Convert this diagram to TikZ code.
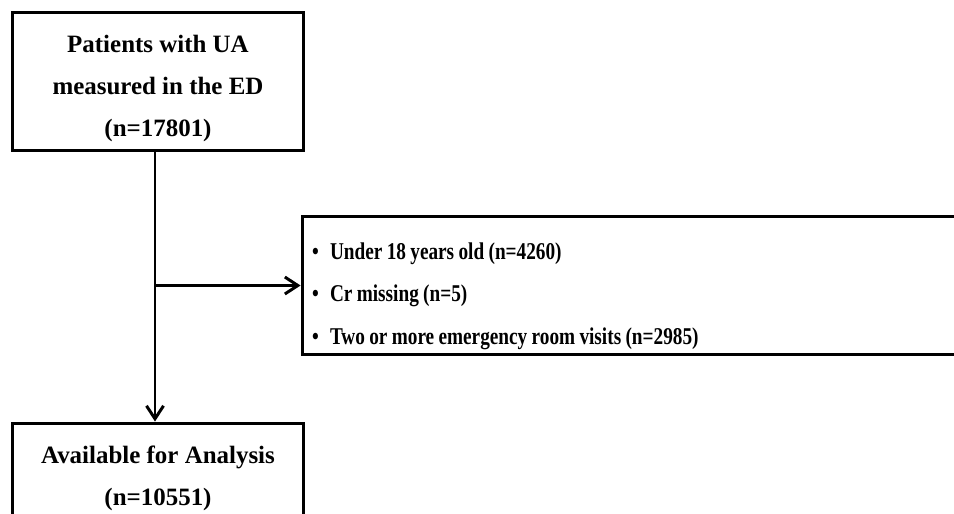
\documentclass[tikz,border=0pt]{standalone}
\usepackage{fontspec}
\setmainfont{Liberation Serif}
\newfontfamily\narrowfont[FakeStretch=0.8]{Liberation Serif}
\usetikzlibrary{arrows.meta,positioning}

\newcommand{\itembullet}{\makebox[0.36cm][l]{\textbullet}}
\newcommand{\tightspace}{\spaceskip=0.18em\relax}

\begin{document}
\begin{tikzpicture}[x=0.02cm,y=-0.02cm,line width=1.7pt]
  \tikzstyle{Box}=[draw,rectangle,inner sep=0pt,font=\fontsize{14.2pt}{23.9pt}\selectfont\bfseries]
  \tikzstyle{ListBox}=[draw,rectangle,inner xsep=0.2cm,inner ysep=0pt,text width=12.96cm,align=left,
                       minimum height=2.78cm,font=\narrowfont\fontsize{13.7pt}{24.2pt}\selectfont\bfseries]
  \tikzstyle{Flow}=[-{Straight Barb[length=2.6mm,width=3.4mm]}]
  \useasboundingbox (0,0) rectangle (954,514);

  \node[Box,align=center,minimum width=5.84cm,minimum height=2.78cm] (patients) at (158,81.5)
    {\rule{0pt}{0.64cm}Patients with UA\\measured in the ED\\(n=17801)};
  \node[ListBox] (excluded) at (636,285.5)
    {\tightspace\rule{0pt}{0.76cm}\itembullet Under 18 years old (n=4260)\\
     \itembullet Cr missing (n=5)\\
     \itembullet Two or more emergency room visits (n=2985)};
  \node[Box,align=center,minimum width=5.84cm,minimum height=1.92cm] (available) at (158,471)
    {\rule{0pt}{0.65cm}Available for Analysis\\(n=10551)};

  \coordinate (top) at ([xshift=-0.06cm]patients.south);
  \coordinate (split) at (top |- excluded.west);
  \draw[Flow] (top) -- (top |- available.north);
  \draw[Flow] (split) -- (excluded.west);
\end{tikzpicture}
\end{document}
